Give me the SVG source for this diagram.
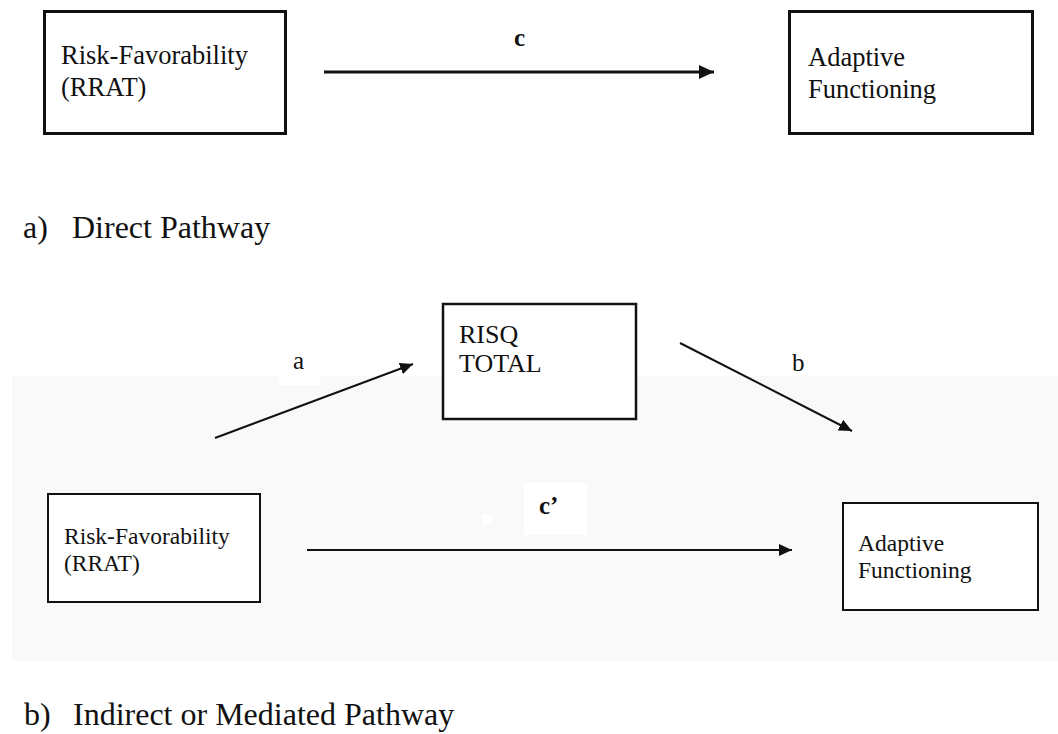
<svg xmlns="http://www.w3.org/2000/svg" width="1058" height="734" viewBox="0 0 1058 734">
<style>
text{font-family:"Liberation Serif","Times New Roman",serif;fill:#111}
.box{fill:#fff;stroke:#111}
.t1{font-size:26.5px}
.t3{font-size:26px}
.t2{font-size:23.5px}
.cap{font-size:32px}
.lbl{font-size:25px}
.conn{stroke:#111;fill:none}
</style>
<defs>
<marker id="ah1" markerUnits="userSpaceOnUse" markerWidth="16" markerHeight="14" refX="15" refY="7" orient="auto"><path d="M0,0 L15,7 L0,14 Z" fill="#111"/></marker>
<marker id="ah2" markerUnits="userSpaceOnUse" markerWidth="14" markerHeight="12" refX="13" refY="6" orient="auto"><path d="M0,0 L13,6 L0,12 Z" fill="#111"/></marker>
</defs>
<rect width="1058" height="734" fill="#fff"/>
<rect x="12" y="376" width="1046" height="285" fill="#f9f9f9"/>
<rect x="278" y="345" width="42" height="40" fill="#fff"/>
<rect x="524" y="483" width="63" height="52" fill="#fff"/>
<rect x="482" y="514" width="10" height="10" fill="#fff"/>

<g id="top-rrat">
<rect class="box" x="44.5" y="11.5" width="241" height="122" stroke-width="3"/>
<text class="t1" x="61" y="64">Risk-Favorability</text>
<text class="t1" x="61" y="96">(RRAT)</text>
</g>
<g id="top-af">
<rect class="box" x="789.5" y="11.5" width="243" height="122" stroke-width="3"/>
<text class="t1" x="808" y="66">Adaptive</text>
<text class="t1" x="808" y="98">Functioning</text>
</g>
<g id="risq">
<rect class="box" x="443" y="304" width="193" height="115" stroke-width="2.5"/>
<text class="t3" x="459" y="343">RISQ</text>
<text class="t3" x="459" y="372">TOTAL</text>
</g>
<g id="bottom-rrat">
<rect class="box" x="48" y="494" width="212" height="108" stroke-width="2"/>
<text class="t2" x="64" y="544">Risk-Favorability</text>
<text class="t2" x="64" y="571">(RRAT)</text>
</g>
<g id="bottom-af">
<rect class="box" x="843" y="503" width="195" height="107" stroke-width="2"/>
<text class="t2" x="858" y="551">Adaptive</text>
<text class="t2" x="858" y="578">Functioning</text>
</g>

<g id="connectors">
<line class="conn" x1="324" y1="72" x2="714" y2="72" stroke-width="3" marker-end="url(#ah1)"/>
<line class="conn" x1="215" y1="438" x2="413" y2="364" stroke-width="2" marker-end="url(#ah2)"/>
<line class="conn" x1="680" y1="343" x2="852" y2="431" stroke-width="2" marker-end="url(#ah2)"/>
<line class="conn" x1="307" y1="550" x2="792" y2="550" stroke-width="2" marker-end="url(#ah2)"/>
</g>

<g id="labels">
<text class="lbl" x="514" y="46" font-weight="bold">c</text>
<text class="lbl" x="293" y="369">a</text>
<text class="lbl" x="792" y="371">b</text>
<text class="lbl" x="539" y="514" font-weight="bold">c’</text>
<text class="cap" x="23" y="238">a)</text>
<text class="cap" x="72" y="238">Direct Pathway</text>
<text class="cap" x="24" y="725">b)</text>
<text class="cap" x="73" y="725">Indirect or Mediated Pathway</text>
</g>
</svg>
